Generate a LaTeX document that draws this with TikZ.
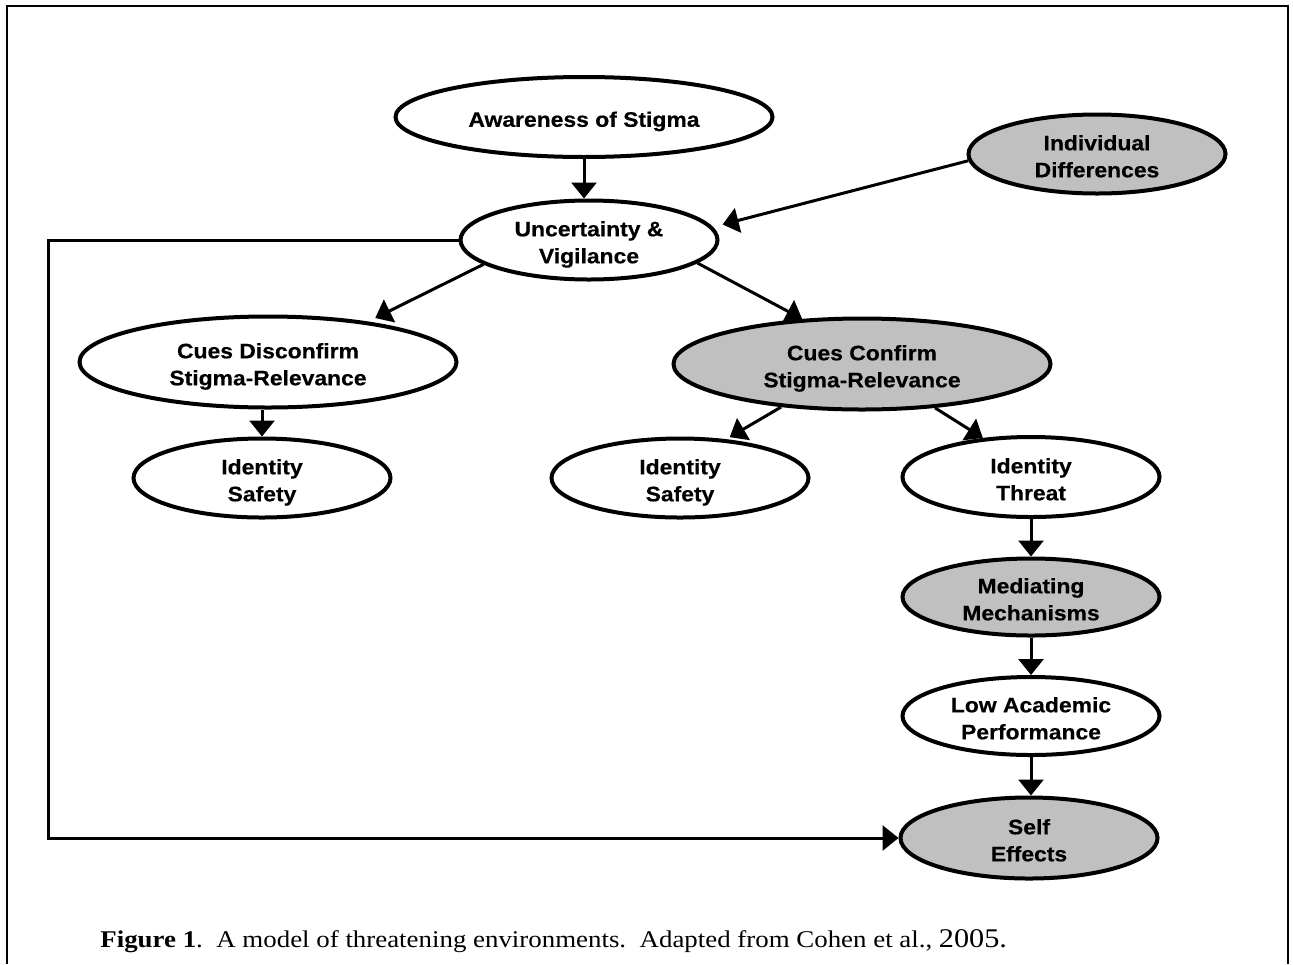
\documentclass[tikz,border=0pt]{standalone}
\usepackage{fontspec}
\usepackage{graphicx}
\setmainfont{Liberation Serif}
\newfontfamily\diagramfont[BoldFeatures={FakeBold=0.4}]{Liberation Sans}
\usetikzlibrary{shapes.geometric,arrows.meta}
\definecolor{shadegray}{HTML}{C0C0C0}
%% node text: a little wide, set slightly low in the oval
\newcommand{\ovaltext}[1]{\raisebox{-2.2pt}[\height][\depth]{\scalebox{1.09}[1]{\begin{tabular}{@{}c@{}}#1\end{tabular}}}}
\begin{document}
\begin{tikzpicture}
[x=0.5pt,y=-0.5pt,%
  nodedecorate/.style={shape=ellipse,draw,line width=2pt,inner sep=0pt,%
    font={\diagramfont\bfseries\fontsize{10.5}{13.5}\selectfont}},%
  linedecorate/.style={-{Triangle[length=8pt,width=12.5pt]},line width=1.5pt},%
  framedecorate/.style={line width=1pt}]
\useasboundingbox (0,0) rectangle (1293,964);
%% frame
\draw[framedecorate] (7,964) -- (7,6) -- (1288,6) -- (1288,964);
%% nodes or vertices
\foreach \nodename/\x/\y/\w/\h/\tone/\nodetext in {
  aware/584/117/188.5pt/40pt/white/{Awareness of Stigma},
  ind/1097/154/128.5pt/39.5pt/shadegray/{Individual\\Differences},
  unc/589/240/128.5pt/39.5pt/white/{Uncertainty \&\\Vigilance},
  disc/268/362/188.5pt/45.5pt/white/{Cues Disconfirm\\Stigma-Relevance},
  conf/862/364/188.5pt/45.5pt/shadegray/{Cues Confirm\\Stigma-Relevance},
  safeL/262/478/128.5pt/39.5pt/white/{Identity\\Safety},
  safeM/680/478/128.5pt/39.5pt/white/{Identity\\Safety},
  threat/1031/477/128.5pt/40pt/white/{Identity\\Threat},
  mediate/1031/597/128.5pt/38.5pt/shadegray/{Mediating\\Mechanisms},
  low/1031/716/128.5pt/39pt/white/{Low Academic\\Performance},
  self/1029/838/128.5pt/40.5pt/shadegray/{Self\\Effects}} {
  \node (\nodename) at (\x,\y) [nodedecorate,minimum width=\w,minimum height=\h,fill=\tone] {\ovaltext{\nodetext}};
}
%% edges or lines
\path
\foreach \startnode/\endnode/\gap in {aware/aware |- unc.north/0pt, ind.183/unc.6/5pt,
  unc.193/disc.22/4pt, unc.348/conf.143/0pt, disc.south -| safeL/safeL/0pt,
  conf.208/safeM.40/2pt, conf.329/threat.141/0pt, threat/mediate/0pt,
  mediate/low/0pt, low/threat |- self.north/0pt} {
  (\startnode) edge[linedecorate,shorten >=\gap] (\endnode)
};
%% feedback loop
\coordinate (rail) at (48,500);
\draw[linedecorate] (unc.west) -| (rail) |- (self.west);
%% caption
\node (caption) at (100,947) [anchor=base west,inner sep=0pt,font={\fontsize{12}{14}\selectfont}]
  {\scalebox{1.12}[1]{\textbf{Figure 1}.\ \ A model of threatening environments.\ \ Adapted from Cohen et al., {\fontsize{13.5}{15}\selectfont 2005.}}};
\end{tikzpicture}
\end{document}
